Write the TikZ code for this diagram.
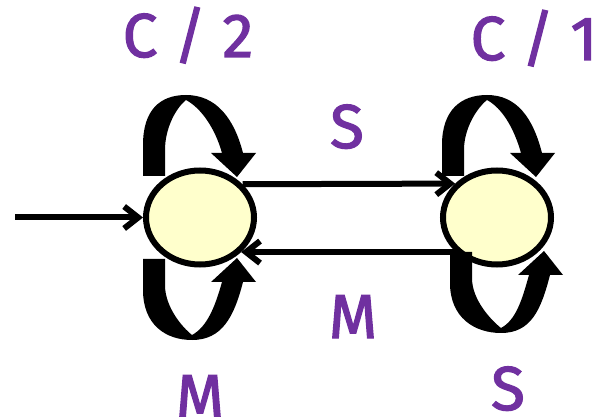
\documentclass[tikz,border=0pt]{standalone}
\usepackage{fontspec}
\setmainfont{Fira Sans}[FakeBold=2]
\usetikzlibrary{arrows.meta,shapes.geometric}
\definecolor{lab}{HTML}{7030A0}
\definecolor{stfill}{HTML}{FFFFCC}
\begin{document}
\begin{tikzpicture}[x=1pt,y=-1pt,
  state/.style={ellipse,draw=black,line width=6pt,fill=stfill,inner sep=0pt,minimum width=108pt,minimum height=94pt},
  edge/.style={line width=6pt,-{Straight Barb[length=14pt,width=22pt,line width=6pt]}},
  lbl/.style={text=lab,font=\fontsize{62}{62}\selectfont,anchor=base,inner sep=0pt},
  loopfill/.style={fill=black,draw=none}]
\useasboundingbox (0,0) rectangle (598,417);
% crescent-shaped self-loop arrow; #1 = x of the pointed tip
\def\looppath#1{(143,176) -- (143,145) .. controls (143,110) and ({#1-26},95) .. (#1,95) .. controls ({#1+30},95) and (234,118) .. (243,153) -- (256,153) -- (237,177) -- (211,153) -- (222,153) .. controls (215,128) and ({#1+15},108) .. (#1,100) .. controls ({#1-10},108) and (165,128) .. (165,150) -- (165,176) -- cycle}
% loops behind states
\fill[loopfill] \looppath{186};
\begin{scope}[shift={(0,435)},yscale=-1]
\fill[loopfill] \looppath{192};
\end{scope}
\begin{scope}[shift={(299,0)}]
\fill[loopfill] \looppath{188};
\end{scope}
% states
\node[state] (L) at (200,217.5) {};
\node[state] (R) at (497,217.5) {};
\begin{scope}[shift={(307,428)},yscale=-1]
\fill[loopfill] \looppath{194};
\end{scope}
% connectors
\coordinate (start) at (15,217.5);
\draw[edge] (start) -- (L.west);
\draw[edge] (L.38.7) -- (R.141.3);
\draw[edge] (R.-140) -- (L.-40);
% labels
\node[lbl] (c2) at (188,57) {C / 2};
\node[lbl] (c1) at (534,60) {C / 1};
\node[lbl] (s1) at (347,148) {S};
\node[lbl] (m1) at (353,338) {M};
\node[lbl] (m2) at (200,418) {M};
\node[lbl] (s2) at (508,410) {S};
\end{tikzpicture}
\end{document}
